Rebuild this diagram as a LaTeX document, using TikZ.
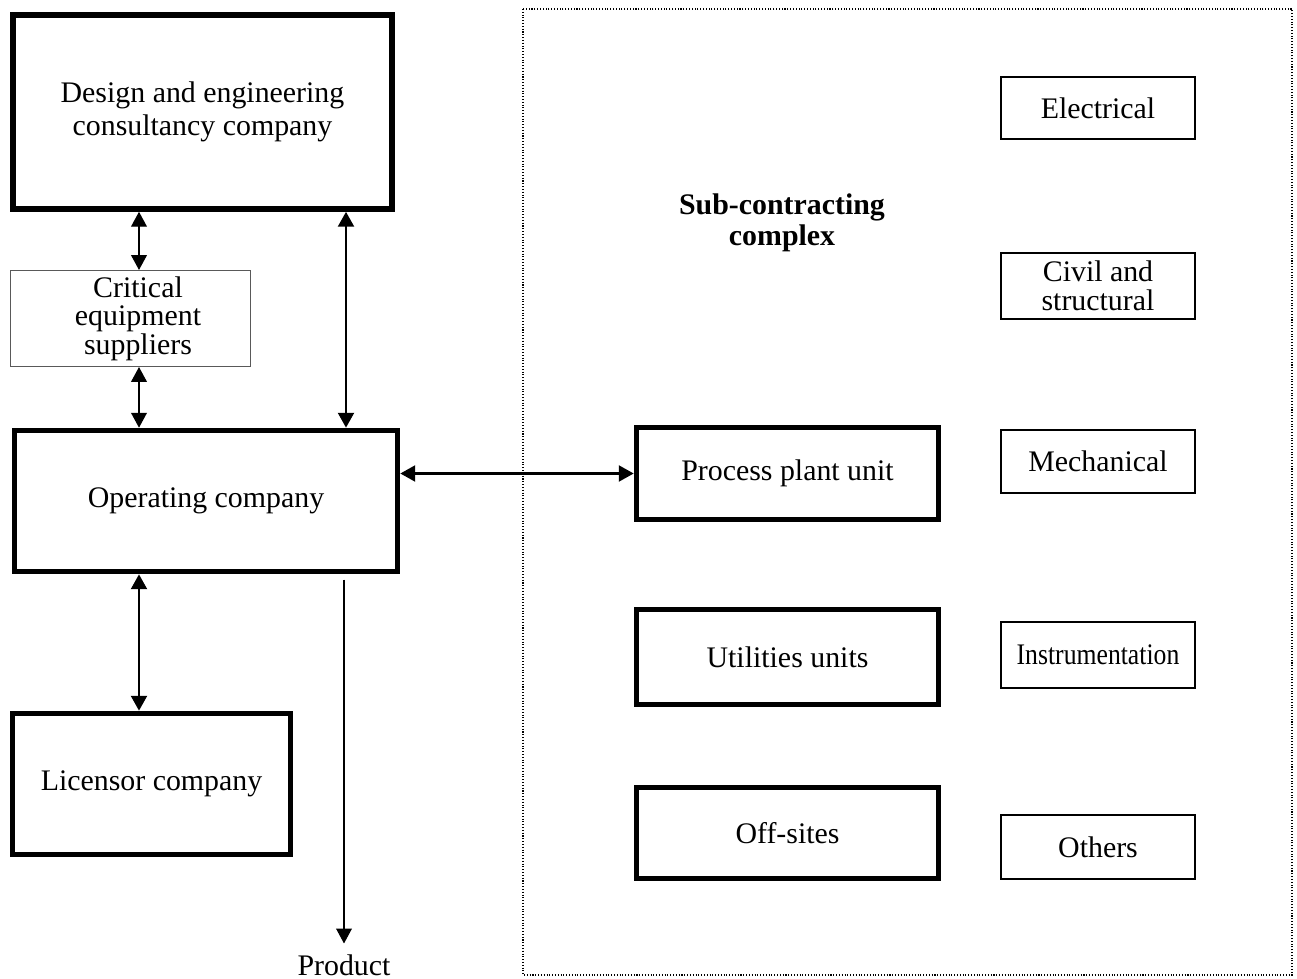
\documentclass[tikz,border=0pt]{standalone}
\usepackage{fontspec}
\setmainfont{Liberation Serif}
\usetikzlibrary{arrows.meta}
\begin{document}
\begin{tikzpicture}[x=0.02cm,y=-0.02cm,
  every node/.style={font=\fontsize{17}{19}\selectfont, align=center, inner sep=0pt},
  heavybox/.style={draw, line width=3.2pt, fill=white},
  lightbox/.style={draw, line width=0.8pt},
  greybox/.style={draw=black!65, line width=0.6pt},
  tight/.style={font=\fontsize{17}{16.2}\selectfont},
  tip/.style={Triangle[length=8.5pt,width=9pt]},
  link/.style={line width=0.8pt, {Triangle[length=8.5pt,width=9pt]}-{Triangle[length=8.5pt,width=9pt]}},
  boldlink/.style={line width=1.6pt, {Triangle[length=8.5pt,width=9pt]}-{Triangle[length=8.5pt,width=9pt]}},
  outflow/.style={line width=0.6pt, -{Triangle[length=8.5pt,width=9pt]}}
]
\useasboundingbox (0,0) rectangle (1297,979);

% sub-contracting complex frame
\draw[densely dotted, line width=0.6pt] (523,9) rectangle (1292,975);

% left-hand column
\node[heavybox, minimum width=7.58cm, minimum height=3.88cm] (design) at (202.5,112)
  {Design and engineering\\consultancy company};
\node[greybox, tight, minimum width=4.8cm, minimum height=1.92cm] (critical) at (130.5,318.5)
  {\hspace*{0.3cm}Critical\\\hspace*{0.3cm}equipment\\\hspace*{0.3cm}suppliers};
\node[heavybox, minimum width=7.66cm, minimum height=2.82cm] (operating) at (206,501)
  {Operating company};
\node[heavybox, minimum width=5.56cm, minimum height=2.82cm] (licensor) at (151.5,784)
  {Licensor company};
\node[anchor=north] (product) at (344,954) {Product};

% sub-contracting complex contents
\node[font=\fontsize{17}{18}\selectfont\bfseries] (sub) at (782,223) {Sub-contracting\\complex};
\node[heavybox, minimum width=6.04cm, minimum height=1.84cm] (process) at (787.5,473.5) {Process plant unit};
\node[heavybox, minimum width=6.04cm, minimum height=1.9cm] (utilities) at (787.5,657) {Utilities units};
\node[heavybox, minimum width=6.04cm, minimum height=1.82cm] (offsites) at (787.5,833) {Off-sites};

\node[lightbox, minimum width=3.88cm, minimum height=1.24cm] (electrical) at (1098,108) {Electrical};
\node[lightbox, tight, minimum width=3.88cm, minimum height=1.32cm] (civil) at (1098,286) {Civil and\\structural};
\node[lightbox, minimum width=3.88cm, minimum height=1.26cm] (mechanical) at (1098,461.5) {Mechanical};
\node[lightbox, minimum width=3.88cm, minimum height=1.32cm] (instrumentation) at (1098,655) {\scalebox{0.86}[1]{Instrumentation}};
\node[lightbox, minimum width=3.88cm, minimum height=1.28cm] (others) at (1098,847) {Others};

% connectors
\coordinate (colA) at (139,0);
\coordinate (colB) at (346,0);
\coordinate (colC) at (344,0);
\draw[link] (design.south -| colA) -- (critical.north -| colA);
\draw[link] (critical.south -| colA) -- (operating.north -| colA);
\draw[boldlink] (design.south -| colB) -- (operating.north -| colB);
\draw[boldlink] (operating.south -| colA) -- (licensor.north -| colA);
\draw[boldlink] (operating.east |- process.west) -- (process.west);
\draw[outflow, shorten <=3pt, shorten >=6pt] (operating.south -| colC) -- (product.north);
\end{tikzpicture}
\end{document}
